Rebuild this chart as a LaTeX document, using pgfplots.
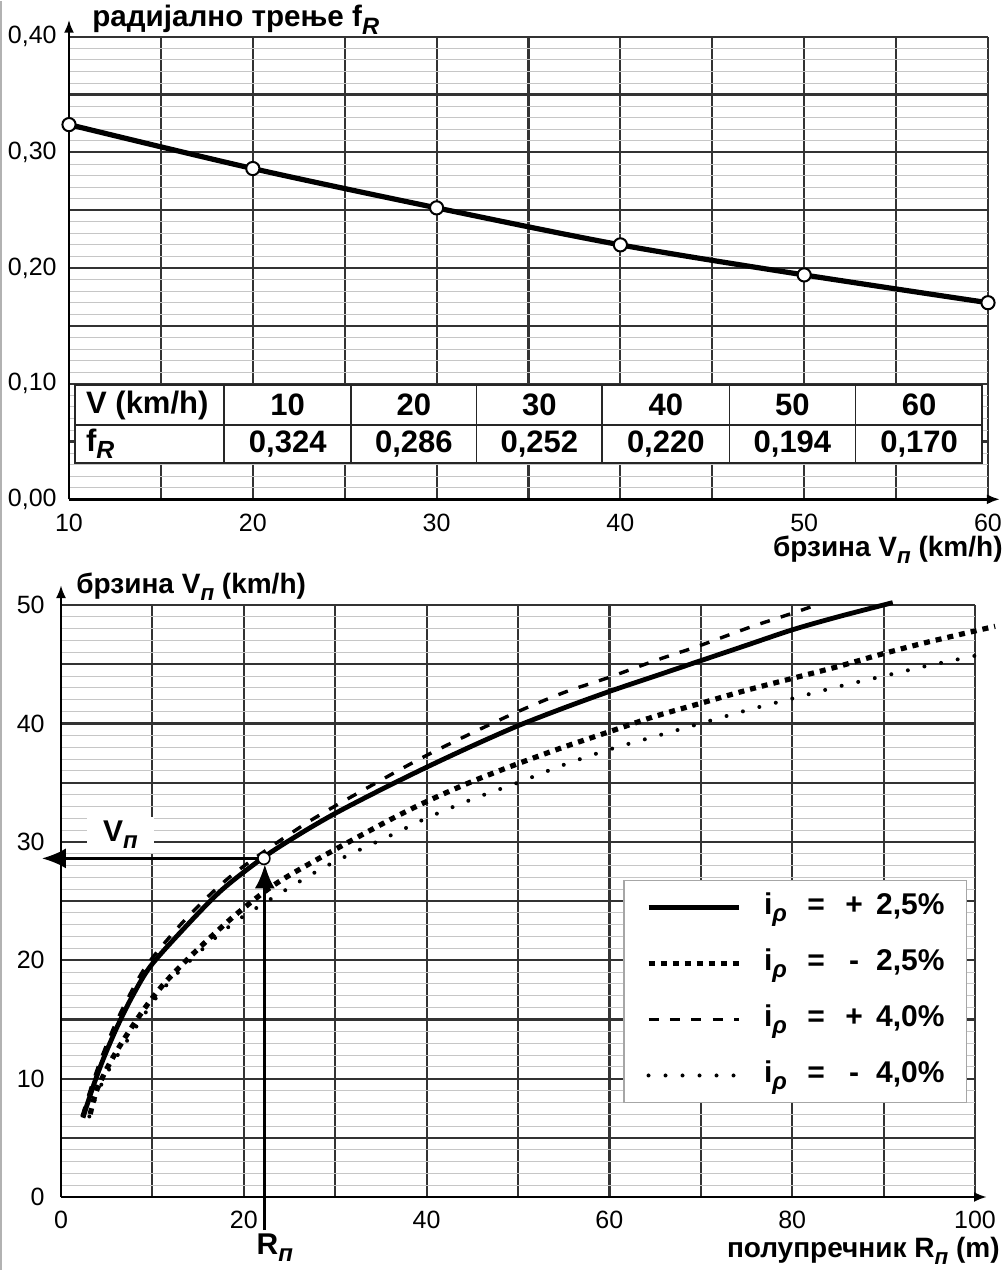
\documentclass[border=0pt]{standalone}
\usepackage{graphicx}
\usepackage{pgfplots}
\pgfplotsset{compat=1.18}
\usepackage{fontspec}
\setmainfont{Liberation Sans}
\usetikzlibrary{arrows.meta}

\newcommand\sub[1]{\raisebox{-0.45ex}{\scalebox{0.8}{\itshape #1}}}
\newcommand\lblfont{\fontsize{14}{16}\selectfont\bfseries}
\newcommand\ttlfont{\fontsize{14.8}{17}\selectfont\bfseries}
\newcommand\tabfont{\fontsize{15.5}{18}\selectfont\bfseries}
\newcommand\legfont{\fontsize{15}{18}\selectfont\bfseries}
\newcommand\tickfont{\fontsize{12.5}{15}\selectfont}
\newcommand\leg[2]{\makebox[15pt][l]{i\sub{ρ}}\hspace{6pt}\makebox[10pt][c]{=}\hspace{9pt}\makebox[10pt][c]{#1}\hspace{6pt}#2}

\pgfplotsset{
  chart/.style={
    scale only axis, anchor=south west, clip=false,
    axis lines=left,
    grid=both,
    major grid style={line width=1.1pt, black!80},
    minor grid style={line width=0.4pt, gray!45},
    major tick length=0pt, minor tick length=0pt,
    tick label style={font=\tickfont},
    xticklabel style={inner sep=0pt, yshift=-7pt},
    yticklabel style={inner sep=0pt, xshift=-6pt},
    minor y tick num=4,
  }
}

\begin{document}
\begin{tikzpicture}
\path[use as bounding box] (0,0) rectangle (504pt,635.5pt);
\draw[gray!60, line width=1pt] (0.5pt,0.5pt) -- (0.5pt,635pt);

% ---- top: radial friction ----
\begin{axis}[chart,
  at={(34.5pt,385.85pt)}, width=459.5pt, height=231.3pt,
  xmin=10, xmax=60, ymin=0, ymax=0.40,
  xtick={10,15,20,25,30,35,40,45,50,55,60},
  xticklabels={10,,20,,30,,40,,50,,60},
  ytick={0,0.05,0.1,0.15,0.2,0.25,0.3,0.35,0.4},
  yticklabels={{0,00},,{0,10},,{0,20},,{0,30},,{0,40}},
  every outer x axis line/.append style={line width=1.4pt, -{Latex[length=6.5pt,width=5pt]}, shorten >=-6pt},
  every outer y axis line/.append style={line width=1.4pt, -{Latex[length=6.5pt,width=5pt]}, shorten >=-8.5pt},
]
\addplot[black, line width=2.6pt, smooth, mark=*, mark size=3.3pt,
  mark options={fill=white, draw=black, line width=1pt, solid}]
  coordinates {(10,0.324) (20,0.286) (30,0.252) (40,0.220) (50,0.194) (60,0.170)};

% value table
\draw[fill=white, draw=black!85, line width=1pt] (axis cs:10.33,0.0314) rectangle (axis cs:59.70,0.0988);
\draw[black!85, line width=0.8pt] (axis cs:10.33,0.0642) -- (axis cs:59.70,0.0642);
\draw[black!85, line width=0.8pt] (axis cs:18.44,0.0314) -- (axis cs:18.44,0.0988);
\draw[black!85, line width=0.8pt] (axis cs:25.35,0.0314) -- (axis cs:25.35,0.0988);
\draw[black!85, line width=0.8pt] (axis cs:32.16,0.0314) -- (axis cs:32.16,0.0988);
\draw[black!85, line width=0.8pt] (axis cs:39.01,0.0314) -- (axis cs:39.01,0.0988);
\draw[black!85, line width=0.8pt] (axis cs:45.93,0.0314) -- (axis cs:45.93,0.0988);
\draw[black!85, line width=0.8pt] (axis cs:52.79,0.0314) -- (axis cs:52.79,0.0988);
\node[font=\tabfont, anchor=west] at (axis cs:10.55,0.0815) {V (km/h)};
\node[font=\tabfont, anchor=west] at (axis cs:10.55,0.0478) {f\sub{R}};
\node[font=\tabfont] at (axis cs:21.90,0.0815) {10};
\node[font=\tabfont] at (axis cs:28.76,0.0815) {20};
\node[font=\tabfont] at (axis cs:35.59,0.0815) {30};
\node[font=\tabfont] at (axis cs:42.47,0.0815) {40};
\node[font=\tabfont] at (axis cs:49.36,0.0815) {50};
\node[font=\tabfont] at (axis cs:56.25,0.0815) {60};
\node[font=\tabfont] at (axis cs:21.90,0.0478) {0,324};
\node[font=\tabfont] at (axis cs:28.76,0.0478) {0,286};
\node[font=\tabfont] at (axis cs:35.59,0.0478) {0,252};
\node[font=\tabfont] at (axis cs:42.47,0.0478) {0,220};
\node[font=\tabfont] at (axis cs:49.36,0.0478) {0,194};
\node[font=\tabfont] at (axis cs:56.25,0.0478) {0,170};
\end{axis}
\node[font=\ttlfont, anchor=base west, inner sep=0pt] at (46pt,622pt) {радијално трење f\sub{R}};
\node[font=\lblfont, anchor=base east, inner sep=0pt] at (501.5pt,357pt) {брзина V\sub{п} (km/h)};

% ---- bottom: speed vs radius ----
\begin{axis}[chart,
  at={(30.5pt,37pt)}, width=457pt, height=296pt,
  xmin=0, xmax=100, ymin=0, ymax=50,
  xtick={0,10,20,30,40,50,60,70,80,90,100},
  xticklabels={0,,20,,40,,60,,80,,100},
  ytick={0,5,10,15,20,25,30,35,40,45,50},
  yticklabels={0,,10,,20,,30,,40,,50},
  yticklabel style={xshift=-2pt},
  every outer x axis line/.append style={line width=1.4pt, -{Latex[length=6.5pt,width=5pt]}, shorten >=-6pt},
  every outer y axis line/.append style={line width=1.4pt, -{Latex[length=6.5pt,width=5pt]}, shorten >=-10pt},
  legend style={at={(axis cs:61.5,26.8)}, anchor=north west, draw=gray!70, line width=0.8pt,
    fill=white, inner xsep=11pt, inner ysep=5pt, row sep=11pt, column sep=11.5pt,
    font=\legfont, nodes={inner sep=0pt, text height=12pt, text depth=5pt}},
  legend cell align=left,
  legend image code/.code={\draw[#1] (0pt,0pt) -- (45pt,0pt);},
]
\addplot[black, line width=2.4pt, smooth] coordinates {
  (2.4,6.7) (3.5,9.3) (4.6,11.6) (6.1,14.3) (7.7,16.8) (9.7,19.4) (13,22.3)
  (17.4,25.8) (22,28.6) (26,30.6) (30,32.4) (35,34.4) (40,36.3) (45,38.1)
  (50,39.8) (55,41.3) (60,42.7) (65,44.0) (70,45.3) (75,46.6) (80,47.9)
  (85,49.0) (91,50.2)};
\addlegendentry{\leg{+}{2,5\%}}
\addplot[black, line width=2.6pt, smooth, dash pattern=on 3pt off 3pt] coordinates {
  (3.2,7.0) (3.9,9.0) (5.4,11.4) (7.2,13.7) (9.4,16.2) (11.6,18.3) (14.8,20.8)
  (18.9,23.7) (23.2,26.3) (28,28.5) (35.6,31.7) (40,33.4) (45,35.1) (50,36.6)
  (55,38.0) (60,39.3) (65,40.6) (70,41.7) (75,42.8) (80,43.8) (85,44.8)
  (90,45.9) (95,46.9) (102.2,48.2)};
\addlegendentry{\leg{-}{2,5\%}}
\addplot[black, line width=1.7pt, smooth, dash pattern=on 5pt off 5.7pt] coordinates {
  (2.3,6.8) (3.4,9.5) (4.5,11.9) (6,14.7) (7.6,17.2) (9.6,19.8) (13.8,23.6)
  (18.9,27.3) (26.9,31.6) (35,35.2) (40,37.3) (45,39.2) (50,41.0) (55,42.6)
  (60,43.9) (65,45.3) (70,46.6) (75.3,48.1) (80.4,49.4) (82.6,50)};
\addlegendentry{\leg{+}{4,0\%}}
\addplot[black, line width=2pt, smooth, line cap=round, dash pattern=on 0pt off 8.5pt] coordinates {
  (3.1,6.8) (4.0,8.8) (5.5,11.1) (7.4,13.4) (10,16.4) (12,18.3) (15,20.6)
  (19,23.2) (24.3,25.8) (29.4,28.1) (36.5,30.7) (40,32.0) (45,33.6) (50,35.0)
  (55,36.5) (60,37.8) (65,38.9) (70,40.0) (75,41.1) (80.5,42.2) (85,43.1)
  (90,44.0) (95,44.9) (101.2,45.9)};
\addlegendentry{\leg{-}{4,0\%}}

% reading example
\draw[black, line width=1.5pt, -{Latex[length=12pt,width=10pt]}] (axis cs:22.2,28.6) -- (axis cs:-2.1,28.6);
\draw[black, line width=1.5pt, -{Latex[length=12pt,width=10pt]}] (axis cs:22.3,-2.8) -- (axis cs:22.3,28.1);
\addplot[forget plot, only marks, mark=*, mark size=3pt,
  mark options={fill=white, draw=black, line width=0.8pt}] coordinates {(22.2,28.6)};
\node[font=\legfont, fill=white, inner xsep=8pt, inner ysep=2pt] at (axis cs:6.5,30.6) {V\sub{п}};
\node[font=\legfont] at (axis cs:23.4,-4.3) {R\sub{п}};
\end{axis}
\node[font=\lblfont, anchor=base west, inner sep=0pt] at (38pt,338.5pt) {брзина V\sub{п} (km/h)};
\node[font=\lblfont, anchor=base east, inner sep=0pt] at (500pt,6.5pt) {полупречник R\sub{п} (m)};
\end{tikzpicture}
\end{document}
